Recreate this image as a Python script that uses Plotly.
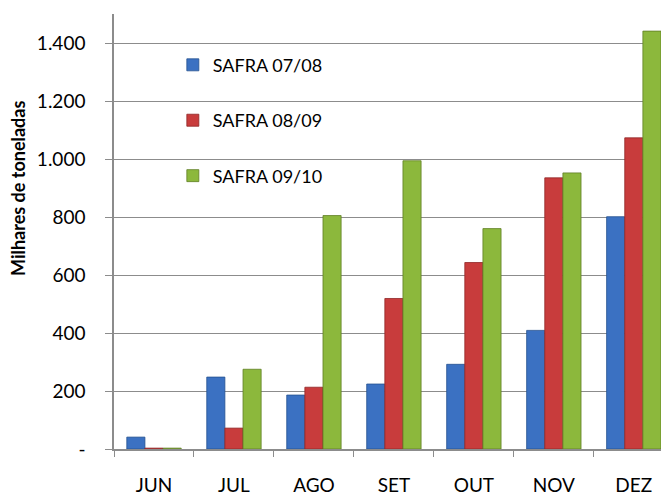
import plotly.graph_objects as go

months = ["JUN", "JUL", "AGO", "SET", "OUT", "NOV", "DEZ"]
safra_0708 = [41, 248, 186, 224, 292, 409, 801]
safra_0809 = [3, 72, 213, 519, 643, 935, 1073]
safra_0910 = [3, 275, 805, 994, 760, 952, 1441]
series_names = ["SAFRA 07/08", "SAFRA 08/09", "SAFRA 09/10"]
tick_vals = [0, 200, 400, 600, 800, 1000, 1200, 1400]
tick_text = ["-", "200", "400", "600", "800", "1.000", "1.200", "1.400"]

colors = ["#3b71c2", "#c83c3c", "#8cb83c"]
lines = ["#24508f", "#8f2626", "#5f7f24"]

fig = go.Figure()
for i, (name, vals) in enumerate(zip(series_names, [safra_0708, safra_0809, safra_0910])):
    fig.add_trace(go.Bar(
        x=months, y=vals, name=name, legendgroup=name,
        marker=dict(color=colors[i], line=dict(color=lines[i], width=0.8)),
    ))

font = "Lato, 'Open Sans', sans-serif"
fig.update_layout(
    width=661, height=494,
    margin=dict(l=106, r=0, t=6, b=53, autoexpand=False),
    paper_bgcolor="white", plot_bgcolor="white",
    barmode="group", bargap=0.32, bargroupgap=0,
    font=dict(family=font, size=18, color="#000"),
    showlegend=True,
    legend=dict(x=0.106, y=0.925, xanchor="left", yanchor="top",
                bgcolor="rgba(0,0,0,0)", tracegroupgap=29,
                font=dict(size=18, family=font), itemwidth=30),
    xaxis=dict(range=[-0.5, 6.44], showgrid=False, showline=True,
               linecolor="#8c8c8c", linewidth=1.5, ticks="outside",
               tickson="boundaries", ticklen=6, tickcolor="#8c8c8c",
               ticklabelstandoff=18, automargin=False,
               tickfont=dict(size=19, family=font)),
    yaxis=dict(range=[0, 1500], tickvals=tick_vals, ticktext=tick_text,
               showgrid=True, gridcolor="#8c8c8c", gridwidth=1.2,
               showline=True, linecolor="#8c8c8c", linewidth=1.5,
               ticks="outside", ticklen=7, tickcolor="#8c8c8c",
               ticklabelstandoff=16, automargin=False,
               tickfont=dict(size=19, family=font), zeroline=False),
    annotations=[dict(text="<b>Milhares de toneladas</b>", textangle=-90,
                      xref="paper", yref="paper", x=-0.173, y=0.6,
                      xanchor="center", yanchor="middle", showarrow=False,
                      font=dict(size=18, family=font))],
)

fig.write_html("out.html")
